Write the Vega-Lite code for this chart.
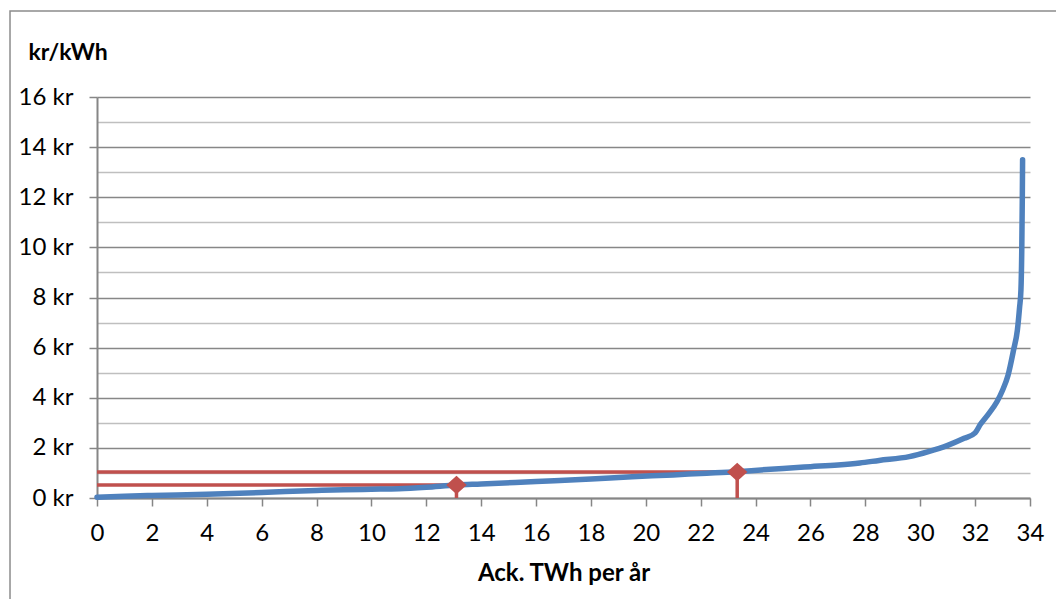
{
  "$schema": "https://vega.github.io/schema/vega-lite/v6.json",
  "autosize": {"type": "none"},
  "width": 933,
  "height": 401,
  "padding": {"left": 97, "top": 97, "right": 26, "bottom": 101},
  "background": "white",
  "config": {
    "view": {"stroke": null},
    "font": "Lato",
    "axis": {"labelFont": "Lato", "titleFont": "Lato", "labelColor": "#000000", "titleColor": "#000000"}
  },
  "datasets": {
    "curve": [
      {"twh": 0, "kr": 0.03},
      {"twh": 1, "kr": 0.07},
      {"twh": 2, "kr": 0.1},
      {"twh": 4, "kr": 0.15},
      {"twh": 6, "kr": 0.22},
      {"twh": 8, "kr": 0.3},
      {"twh": 9, "kr": 0.33},
      {"twh": 10, "kr": 0.35},
      {"twh": 11, "kr": 0.37},
      {"twh": 12, "kr": 0.43},
      {"twh": 13.1, "kr": 0.52},
      {"twh": 14, "kr": 0.56},
      {"twh": 16, "kr": 0.66},
      {"twh": 18, "kr": 0.76},
      {"twh": 19.5, "kr": 0.85},
      {"twh": 21, "kr": 0.92},
      {"twh": 22, "kr": 0.98},
      {"twh": 23.3, "kr": 1.05},
      {"twh": 24.2, "kr": 1.12},
      {"twh": 25, "kr": 1.18},
      {"twh": 26, "kr": 1.25},
      {"twh": 27, "kr": 1.32},
      {"twh": 27.8, "kr": 1.4},
      {"twh": 28.5, "kr": 1.5},
      {"twh": 29.6, "kr": 1.65},
      {"twh": 30.3, "kr": 1.85},
      {"twh": 31, "kr": 2.1},
      {"twh": 31.6, "kr": 2.38},
      {"twh": 32.0, "kr": 2.6},
      {"twh": 32.2, "kr": 2.95},
      {"twh": 32.45, "kr": 3.3},
      {"twh": 32.8, "kr": 3.85},
      {"twh": 33.0, "kr": 4.3},
      {"twh": 33.2, "kr": 4.9},
      {"twh": 33.4, "kr": 5.9},
      {"twh": 33.54, "kr": 6.7},
      {"twh": 33.62, "kr": 7.6},
      {"twh": 33.67, "kr": 8.3},
      {"twh": 33.7, "kr": 9.9},
      {"twh": 33.72, "kr": 12},
      {"twh": 33.73, "kr": 13.5}
    ],
    "guides": [
      {"grp": "a", "ord": 1, "twh": 0, "kr": 0.52},
      {"grp": "a", "ord": 2, "twh": 13.1, "kr": 0.52},
      {"grp": "a", "ord": 3, "twh": 13.1, "kr": 0},
      {"grp": "b", "ord": 1, "twh": 0, "kr": 1.04},
      {"grp": "b", "ord": 2, "twh": 23.33, "kr": 1.04},
      {"grp": "b", "ord": 3, "twh": 23.33, "kr": 0}
    ],
    "markers": [
      {"twh": 13.1, "kr": 0.52},
      {"twh": 23.33, "kr": 1.04}
    ]
  },
  "resolve": {"axis": {"y": "independent"}},
  "layer": [
    {
      "data": {"name": "markers"},
      "mark": {"type": "point", "opacity": 0},
      "encoding": {
        "x": {
          "field": "twh", "type": "quantitative",
          "scale": {"domain": [0, 34], "nice": false, "zero": false},
          "axis": {
            "title": "Ack. TWh per år",
            "values": [0, 2, 4, 6, 8, 10, 12, 14, 16, 18, 20, 22, 24, 26, 28, 30, 32, 34],
            "grid": false,
            "domainColor": "#868686",
            "domainWidth": 2,
            "tickColor": "#868686",
            "tickWidth": 1.5,
            "tickSize": 8,
            "labelFontSize": 24,
            "labelPadding": 15,
            "labelFlush": false,
            "labelOverlap": false,
            "titleFontSize": 24,
            "titleFontWeight": "bold",
            "titlePadding": 16
          }
        },
        "y": {
          "field": "kr", "type": "quantitative",
          "scale": {"domain": [0, 16], "nice": false},
          "axis": {
            "orient": "right",
            "title": null,
            "values": [1, 3, 5, 7, 9, 11, 13, 15],
            "labels": false,
            "ticks": false,
            "domain": false,
            "grid": true,
            "gridColor": "#BFBFBF",
            "gridWidth": 1.5
          }
        }
      }
    },
    {
      "data": {"values": [{}]},
      "mark": {"type": "rect", "fill": null, "stroke": "#8c8c8c", "strokeWidth": 1.5, "clip": false},
      "encoding": {
        "x": {"datum": -3.17, "type": "quantitative"},
        "x2": {"datum": 35.4},
        "y": {"datum": 19.43, "type": "quantitative", "axis": null},
        "y2": {"datum": -4.6}
      }
    },
    {
      "data": {"name": "guides"},
      "mark": {"type": "line", "color": "#C0504D", "strokeWidth": 3.5, "clip": false},
      "encoding": {
        "x": {"field": "twh", "type": "quantitative"},
        "y": {"field": "kr", "type": "quantitative", "axis": null},
        "detail": {"field": "grp"},
        "order": {"field": "ord"}
      }
    },
    {
      "data": {"name": "curve"},
      "mark": {"type": "line", "color": "#4F81BD", "strokeWidth": 5.5, "strokeCap": "round", "strokeJoin": "round", "interpolate": "monotone"},
      "encoding": {
        "x": {"field": "twh", "type": "quantitative"},
        "y": {
          "field": "kr", "type": "quantitative",
          "axis": {
            "orient": "left",
            "title": "kr/kWh",
            "titleAngle": 0,
            "titleAlign": "left",
            "titleBaseline": "middle",
            "titleX": -69,
            "titleY": -45,
            "titleFontSize": 23,
            "titleFontWeight": "bold",
            "values": [0, 2, 4, 6, 8, 10, 12, 14, 16],
            "labelExpr": "datum.value + ' kr'",
            "grid": true,
            "gridColor": "#878787",
            "gridWidth": 1.5,
            "domainColor": "#868686",
            "domainWidth": 2,
            "tickColor": "#868686",
            "tickWidth": 1.5,
            "tickSize": 8,
            "labelFontSize": 24,
            "labelPadding": 16,
            "labelFlush": false,
            "labelOverlap": false
          }
        }
      }
    },
    {
      "data": {"name": "markers"},
      "mark": {"type": "point", "shape": "M -1 0 L 0 -0.9 L 1 0 L 0 0.9 Z", "filled": true, "color": "#C0504D", "size": 420, "opacity": 1},
      "encoding": {
        "x": {"field": "twh", "type": "quantitative"},
        "y": {"field": "kr", "type": "quantitative", "axis": null}
      }
    }
  ]
}
